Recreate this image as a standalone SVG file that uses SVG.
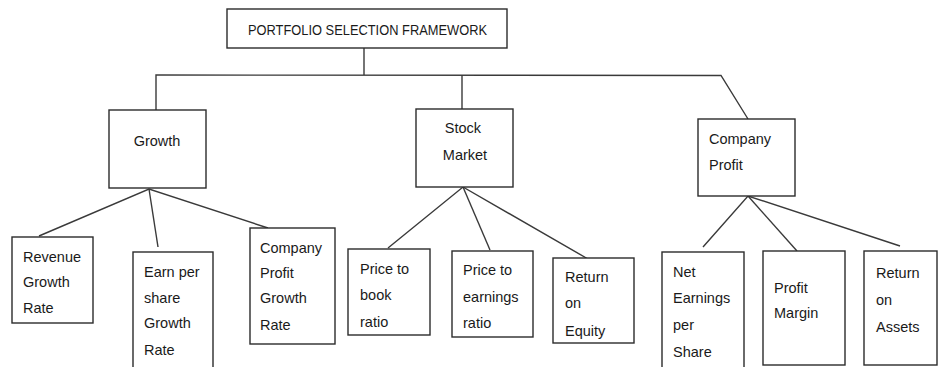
<svg xmlns="http://www.w3.org/2000/svg" width="938" height="367" viewBox="0 0 938 367">
<defs>
<style>
.box{fill:#fff;stroke:#2b2b2b;stroke-width:1.4}
.ln{fill:none;stroke:#3a3a3a;stroke-width:1.4}
text{font-family:"Liberation Sans",Arial,sans-serif;font-size:14.5px;fill:#1a1a1a}
.title{font-size:15px}
</style>
<clipPath id="clipEq"><rect x="553" y="258" width="81" height="85"/></clipPath>
</defs>
<rect width="938" height="367" fill="#fff"/>
<g id="connectors">
<polyline class="ln" points="364,48 364,75"/>
<polyline class="ln" points="156,110 156,75 721,75.5 748,119"/>
<polyline class="ln" points="462,75 462,109"/>
<polyline class="ln" points="39,236 149,189 268,228"/>
<polyline class="ln" points="149,189 158,247"/>
<polyline class="ln" points="388,248 463,187 588,259"/>
<polyline class="ln" points="463,187 490,250"/>
<polyline class="ln" points="703,247 748,196 900,246"/>
<polyline class="ln" points="748,196 797,251"/>
</g>
<g id="root">
<rect class="box" x="227" y="9" width="280" height="39"/>
<text class="title" x="248" y="35" textLength="239" lengthAdjust="spacingAndGlyphs">PORTFOLIO SELECTION FRAMEWORK</text>
</g>
<g id="growth">
<rect class="box" x="109" y="110" width="97" height="78"/>
<text x="157" y="146" text-anchor="middle">Growth</text>
</g>
<g id="stock-market">
<rect class="box" x="416" y="109" width="97" height="78"/>
<text x="463" y="133" text-anchor="middle">Stock</text>
<text x="465" y="160" text-anchor="middle">Market</text>
</g>
<g id="company-profit">
<rect class="box" x="698" y="119" width="97" height="77"/>
<text x="709" y="144">Company</text>
<text x="709" y="170">Profit</text>
</g>
<g id="revenue-growth-rate">
<rect class="box" x="12" y="237" width="81" height="86"/>
<text x="23" y="262">Revenue</text>
<text x="23" y="287">Growth</text>
<text x="23" y="313">Rate</text>
</g>
<g id="earn-per-share-growth-rate">
<rect class="box" x="133" y="252" width="80" height="120"/>
<text x="144" y="277">Earn per</text>
<text x="144" y="303">share</text>
<text x="144" y="328">Growth</text>
<text x="144" y="355">Rate</text>
</g>
<g id="company-profit-growth-rate">
<rect class="box" x="250" y="228" width="85" height="116"/>
<text x="260" y="253">Company</text>
<text x="260" y="278">Profit</text>
<text x="260" y="303">Growth</text>
<text x="260" y="330">Rate</text>
</g>
<g id="price-to-book">
<rect class="box" x="348" y="249" width="82" height="86"/>
<text x="360" y="274">Price to</text>
<text x="360" y="300">book</text>
<text x="360" y="327">ratio</text>
</g>
<g id="price-to-earnings">
<rect class="box" x="452" y="251" width="81" height="86"/>
<text x="463" y="275">Price to</text>
<text x="463" y="302">earnings</text>
<text x="463" y="328">ratio</text>
</g>
<g id="return-on-equity">
<rect class="box" x="553" y="258" width="81" height="85"/>
<g clip-path="url(#clipEq)">
<text x="565" y="282">Return</text>
<text x="565" y="308">on</text>
<text x="565" y="336">Equity</text>
</g>
</g>
<g id="net-earnings-per-share">
<rect class="box" x="662" y="252" width="82" height="120"/>
<text x="673" y="277">Net</text>
<text x="673" y="303">Earnings</text>
<text x="673" y="330">per</text>
<text x="673" y="357">Share</text>
</g>
<g id="profit-margin">
<rect class="box" x="763" y="251" width="82" height="114"/>
<text x="774" y="293">Profit</text>
<text x="774" y="318">Margin</text>
</g>
<g id="return-on-assets">
<rect class="box" x="864" y="251" width="73" height="114"/>
<text x="876" y="278">Return</text>
<text x="876" y="305">on</text>
<text x="876" y="332">Assets</text>
</g>
</svg>
